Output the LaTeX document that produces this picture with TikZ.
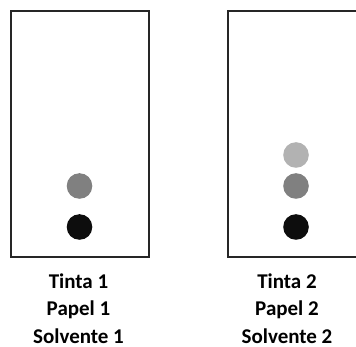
\documentclass[tikz,border=0pt]{standalone}
\usepackage{fontspec}
\setmainfont{Carlito}
\usetikzlibrary{math}
\tikzset{lab/.style={anchor=base, inner sep=0pt, font=\fontsize{21}{25}\selectfont\bfseries}}
\begin{document}
\begin{tikzpicture}[x=1pt,y=-1pt]
\tikzmath{
\r=12.8;
\xa=79.5;
\xb=296;
}
\useasboundingbox (0,0) rectangle (356,347);
\clip (0,0) rectangle (356,347);

% papers
\draw[line width=1.3, black!85] (11,11) rectangle (149,257);
\draw[line width=1.3, black!85] (228,11) rectangle (368,257);

% spots
\fill[black!50] (\xa,186) circle (\r);
\fill[black!95] (\xa,227) circle (\r);

\fill[black!30] (\xb,155) circle (\r);
\fill[black!50] (\xb,186) circle (\r);
\fill[black!95] (\xb,227) circle (\r);

% labels
\node[lab] (tinta1) at (78.5,289) {Tinta 1};
\node[lab] (papel1) at (78.5,316) {Papel 1};
\node[lab] (solv1) at (78.5,343) {Solvente 1};
\node[lab] (tinta2) at (287,289) {Tinta 2};
\node[lab] (papel2) at (287,316) {Papel 2};
\node[lab] (solv2) at (287,343) {Solvente 2};

\end{tikzpicture}
\end{document}
